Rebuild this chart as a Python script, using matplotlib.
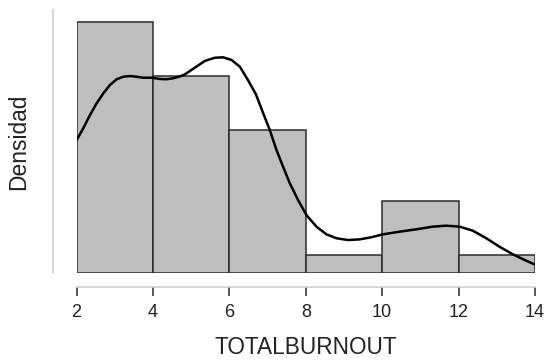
import matplotlib
matplotlib.use("Agg")
import matplotlib.pyplot as plt
import numpy as np

# histogram of TOTALBURNOUT (bin edges and counts)
bin_edges = [2, 4, 6, 8, 10, 12, 14]
bin_counts = [14, 11, 8, 1, 4, 1]

# density curve, points
kde_x = [2.005, 2.178, 2.353, 2.528, 2.701, 2.876, 3.051, 3.224, 3.399, 3.574,
         3.746, 3.966, 4.183, 4.358, 4.531, 4.706, 4.837, 5.098, 5.359, 5.621,
         5.838, 6.058, 6.275, 6.471, 6.693, 6.884, 7.059, 7.234, 7.407, 7.582,
         7.799, 8.018, 8.280, 8.541, 8.803, 9.106, 9.412, 9.718, 10.021, 10.458,
         10.894, 11.328, 11.678, 12.026, 12.374, 12.724, 13.072, 13.420, 13.770, 13.987]
kde_y = [0.0953, 0.1037, 0.1132, 0.1216, 0.1287, 0.1347, 0.1388, 0.1406, 0.1411, 0.1406,
         0.1399, 0.1399, 0.1390, 0.1388, 0.1395, 0.1408, 0.1423, 0.1471, 0.1519, 0.1542,
         0.1545, 0.1526, 0.1478, 0.1390, 0.1282, 0.1146, 0.1024, 0.0881, 0.0761, 0.0643,
         0.0523, 0.0415, 0.0332, 0.0277, 0.0249, 0.0236, 0.0241, 0.0256, 0.0277, 0.0296,
         0.0313, 0.0332, 0.0339, 0.0332, 0.0303, 0.0249, 0.0188, 0.0134, 0.0088, 0.0062]

plt.rcParams["font.family"] = ["Liberation Sans", "DejaVu Sans"]

W, H = 549, 362
fig = plt.figure(figsize=(W / 100, H / 100), dpi=100)
# axes box: x=2 at px 76.5, x=14 at px 535; baseline at px 273, top at px 10
ax = fig.add_axes([76.5 / W, 1 - 273 / H, (535 - 76.5) / W, (273 - 10) / H])

edges = np.array(bin_edges, dtype=float)
counts = np.array(bin_counts, dtype=float)
widths = np.diff(edges)
dens = counts / (counts.sum() * widths)
ax.bar(edges[:-1], dens, width=widths, align="edge", color="#bebebe",
       edgecolor="#2b2b2b", linewidth=1.1)
ax.plot(kde_x, kde_y, color="black", lw=1.8, solid_capstyle="round",
        solid_joinstyle="round")

ax.set_xlim(2, 14)
ax.set_ylim(0, 0.1884)
ax.set_xticks(bin_edges)
ax.set_xticklabels([str(v) for v in bin_edges])

for s in ("top", "right"):
    ax.spines[s].set_visible(False)
ax.spines["bottom"].set_position(("outward", 10))
ax.spines["left"].set_position(("outward", 17))
ax.spines["bottom"].set_color("#cfcfcf")
ax.spines["left"].set_color("#cfcfcf")
ax.spines["bottom"].set_linewidth(1.2)
ax.spines["left"].set_linewidth(1.2)
ax.spines["bottom"].set_bounds(2, 14)
ax.tick_params(axis="x", direction="out", length=6.5, width=1.2, color="#3a3a3a",
               pad=6, labelsize=13, labelcolor="#222222")
ax.tick_params(axis="y", length=0, labelleft=False)

fig.text(18.3 / W, 1 - 141.7 / H, "Densidad", rotation=90, ha="center", va="center",
         fontsize=16.4, color="#222222")
fig.text(305.5 / W, 1 - 347.7 / H, "TOTALBURNOUT", ha="center", va="center",
         fontsize=16.3, color="#222222")

fig.savefig("out.png", dpi=100)
